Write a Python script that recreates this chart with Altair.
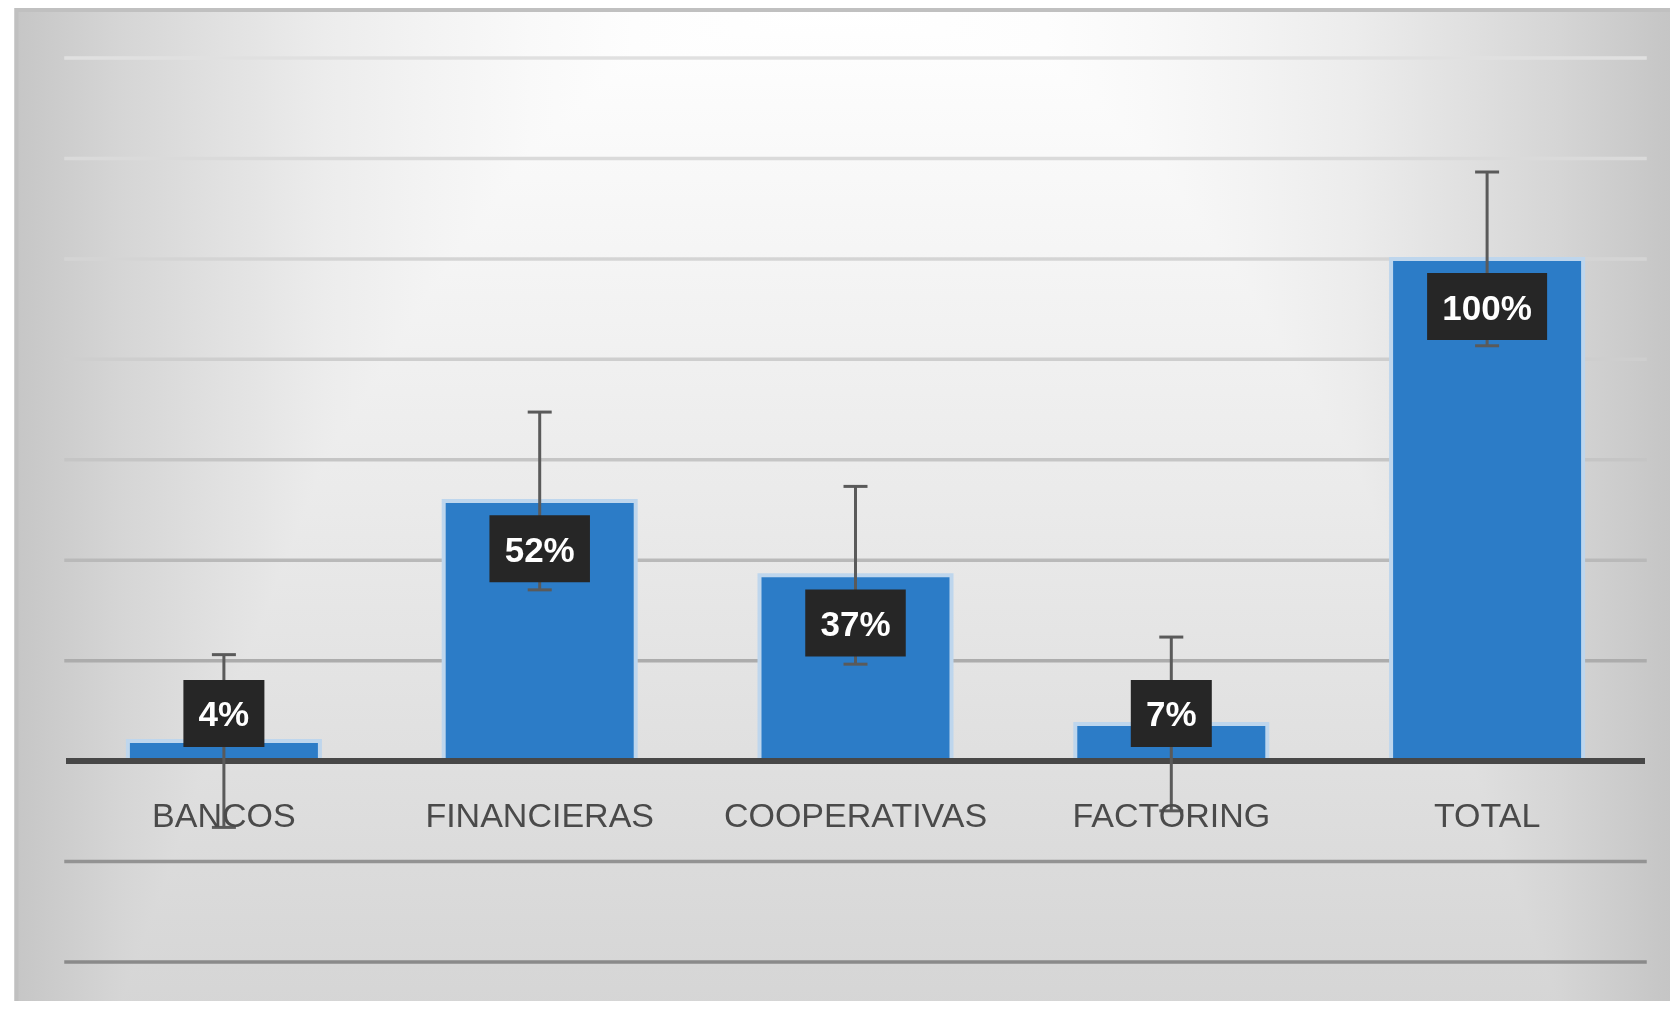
import altair as alt
import pandas as pd

# ---- data ----
categories = ["BANCOS", "FINANCIERAS", "COOPERATIVAS", "FACTORING", "TOTAL"]
values = [4.0, 51.8, 37.0, 7.4, 100.0]
errors = [17.2, 17.7, 17.7, 17.3, 17.3]
labels = ["4%", "52%", "37%", "7%", "100%"]
grid_values = [-40, -20, 20, 40, 60, 80, 100, 120, 140]
zero_value = [0]

df = pd.DataFrame({"cat": categories, "value": values, "err": errors, "label": labels})
grid_df = pd.DataFrame({"g": grid_values})
zero_df = pd.DataFrame({"g": zero_value})
bg_df = pd.DataFrame({"k": [0]})

W, H = 1579, 904

yscale = alt.Scale(domain=[-40, 140], nice=False, zero=False)
xscale = alt.Scale(domain=categories, paddingInner=0.392, paddingOuter=0.196)

x_enc = alt.X(
    "cat:N",
    scale=xscale,
    sort=categories,
    axis=alt.Axis(
        title=None,
        orient="bottom",
        offset=-201,
        domain=False,
        ticks=False,
        grid=False,
        labelFont="Liberation Sans",
        labelFontSize=34,
        labelColor="#4a4a4a",
        labelPadding=38,
        labelAngle=0,
        labelLimit=0,
        zindex=1,
    ),
)

# ---- background (Excel-like rectangular path gradient) ----
hstops = [
    (0.0, "#c6c6c6"), (0.0608, "#d5d5d5"), (0.1225, "#e1e1e1"), (0.1843, "#ececec"),
    (0.246, "#f3f3f3"), (0.3078, "#f9f9f9"), (0.3695, "#fdfdfd"), (0.4313, "#fefefe"),
    (0.493, "#ffffff"),
    (0.5548, "#fefefe"), (0.6165, "#fdfdfd"), (0.6783, "#f9f9f9"), (0.74, "#f3f3f3"),
    (0.8018, "#ececec"), (0.8635, "#e1e1e1"), (0.9253, "#d5d5d5"), (0.987, "#c6c6c6"),
    (1.0, "#c4c4c4"),
]
hgrad = {
    "gradient": "linear",
    "x1": 0, "y1": 0, "x2": 1, "y2": 0,
    "stops": [{"offset": o, "color": c} for o, c in hstops],
}
vgrad = {
    "gradient": "linear",
    "x1": 0, "y1": 0, "x2": 0, "y2": 1,
    "stops": [
        {"offset": 0.0, "color": "#ffffff"},
        {"offset": 1.0, "color": "#d5d5d5"},
    ],
}
bg_pos = dict(
    x=alt.value(-49.5), x2=alt.value(W + 40), y=alt.value(-48), y2=alt.value(H + 50)
)
bg_h = alt.Chart(bg_df).mark_rect(fill=hgrad, stroke="#c0c0c0", strokeWidth=4).encode(**bg_pos)
bg_v = alt.Chart(bg_df).mark_rect(fill=vgrad, blend="darken", stroke="#c0c0c0", strokeWidth=4).encode(**bg_pos)

# ---- gridlines ----
grid = alt.Chart(grid_df).mark_rule(strokeWidth=3.5, strokeCap="square").encode(
    y=alt.Y("g:Q", scale=yscale, axis=None),
    color=alt.Color(
        "g:Q",
        scale=alt.Scale(
            domain=[-40, -20, 20, 40, 60, 80, 140],
            range=["#8a8a8a", "#939393", "#acacac", "#b9b9b9", "#c5c5c5", "#cecece", "#e0e0e0"],
        ),
        legend=None,
    ),
)

base = alt.Chart(df)

bars = base.mark_bar(color="#2c7cc7", stroke="#bed6ed", strokeWidth=4).encode(
    x=x_enc,
    y=alt.Y("value:Q", scale=yscale, axis=None),
)

zero = alt.Chart(zero_df).mark_rule(color="#474747", strokeWidth=6).encode(
    y=alt.Y("g:Q", scale=yscale, axis=None)
)

err_base = base.transform_calculate(
    lo="datum.value - datum.err", hi="datum.value + datum.err"
)
err_rule = err_base.mark_rule(color="#5a5a5a", strokeWidth=3).encode(
    x=x_enc,
    y=alt.Y("lo:Q", scale=yscale, axis=None),
    y2="hi:Q",
)
cap_lo = err_base.mark_tick(color="#5a5a5a", thickness=3, size=24, opacity=1).encode(
    x=x_enc, y=alt.Y("lo:Q", scale=yscale, axis=None)
)
cap_hi = err_base.mark_tick(color="#5a5a5a", thickness=3, size=24, opacity=1).encode(
    x=x_enc, y=alt.Y("hi:Q", scale=yscale, axis=None)
)

lab_base = base.transform_calculate(
    ly="max(datum.value - 9.5, 9.5)",
    bw="19.5 * length(datum.label) + 42",
)
boxes = lab_base.mark_tick(color="#262626", thickness=67, opacity=1).encode(
    x=x_enc,
    y=alt.Y("ly:Q", scale=yscale, axis=None),
    size=alt.Size("bw:Q", scale=None, legend=None),
)
texts = lab_base.mark_text(
    font="Liberation Sans",
    fontWeight="bold",
    fontSize=35,
    color="#ffffff",
    align="center",
    baseline="middle",
    dy=2,
).encode(
    x=x_enc,
    y=alt.Y("ly:Q", scale=yscale, axis=None),
    text="label:N",
)

chart = (
    alt.layer(bg_h, bg_v, grid, bars, zero, err_rule, cap_lo, cap_hi, boxes, texts)
    .properties(
        width=W,
        height=H,
        padding={"left": 58, "top": 50, "right": 25, "bottom": 39},
        autosize=alt.AutoSizeParams(type="none"),
    )
    .configure_view(stroke="transparent")
    .configure(background="white")
)

chart.save("out.html", embed_options={"renderer": "svg", "actions": False})
